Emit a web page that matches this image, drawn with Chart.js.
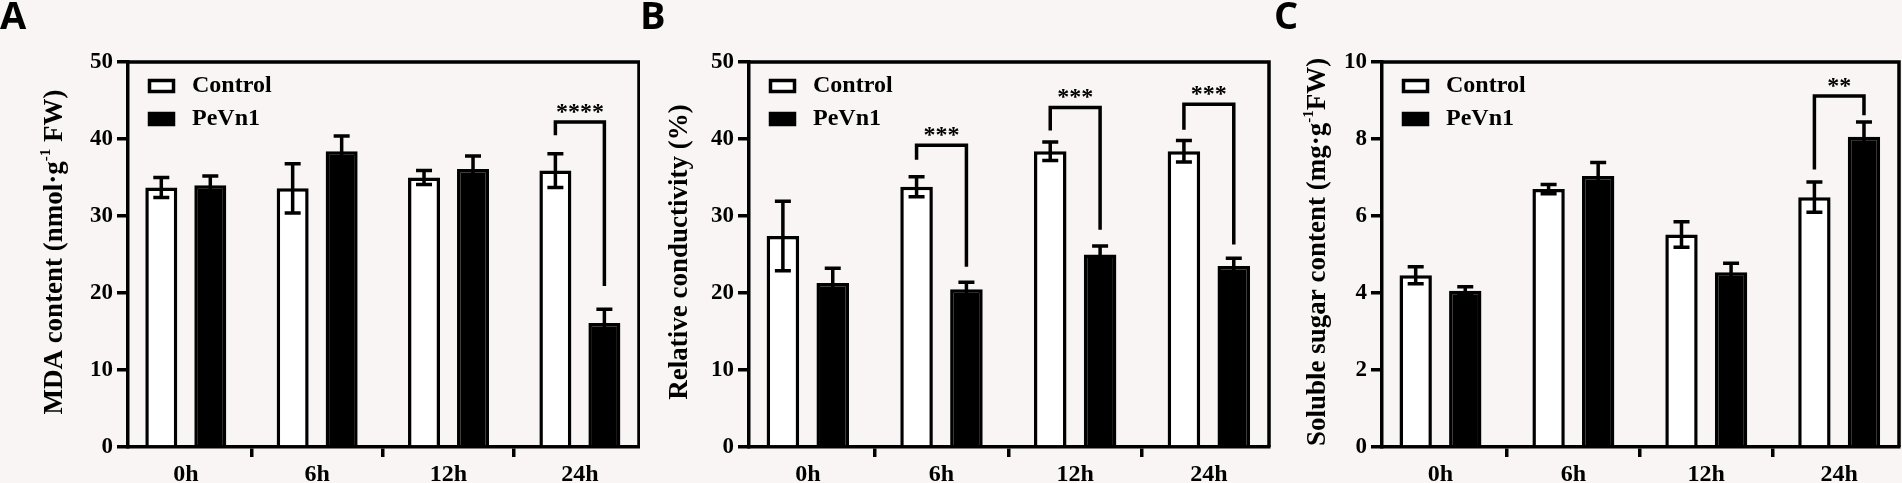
<!DOCTYPE html>
<html>
<head>
<meta charset="utf-8">
<script src="https://cdn.jsdelivr.net/npm/chart.js@4.4.1/dist/chart.umd.min.js"></script>
<style>
  body { margin: 0; width: 1902px; height: 483px; overflow: hidden; background: #f8f5f4; position: relative; }
  .panel { position: absolute; top: 0; height: 483px; }
</style>
</head>
<body>
<div class="panel" style="left:0;width:640px"><canvas id="chartA" width="640" height="483"></canvas></div>
<div class="panel" style="left:640px;width:632px"><canvas id="chartB" width="632" height="483"></canvas></div>
<div class="panel" style="left:1272px;width:630px"><canvas id="chartC" width="630" height="483"></canvas></div>
<script>
const timePoints = ['0h', '6h', '12h', '24h'];
const groupNames = ['Control', 'PeVn1'];

// A - MDA content
const mdaControl = [33.7, 33.6, 35.0, 35.9];
const mdaControlSd = [1.3, 3.2, 0.9, 2.2];
const mdaPevn1 = [34.0, 38.4, 36.1, 16.1];
const mdaPevn1Sd = [1.2, 2.0, 1.7, 1.8];
const mdaTicks = [0, 10, 20, 30, 40, 50];
const mdaSig = [{ at: 3, stars: '****', top: 42.2, leftEnd: 40.5, rightEnd: 20.9 }];

// B - relative conductivity
const condControl = [27.4, 33.8, 38.4, 38.4];
const condControlSd = [4.5, 1.3, 1.2, 1.4];
const condPevn1 = [21.3, 20.5, 25.0, 23.5];
const condPevn1Sd = [1.9, 0.9, 1.1, 1.0];
const condTicks = [0, 10, 20, 30, 40, 50];
const condSig = [
  { at: 1, stars: '***', top: 39.2, leftEnd: 37.3, rightEnd: 23.4 },
  { at: 2, stars: '***', top: 44.1, leftEnd: 41.1, rightEnd: 28.2 },
  { at: 3, stars: '***', top: 44.5, leftEnd: 41.2, rightEnd: 26.3 }
];

// C - soluble sugar
const sugarControl = [4.46, 6.70, 5.52, 6.49];
const sugarControlSd = [0.22, 0.12, 0.33, 0.39];
const sugarPevn1 = [4.06, 7.04, 4.54, 8.06];
const sugarPevn1Sd = [0.10, 0.35, 0.23, 0.38];
const sugarTicks = [0, 2, 4, 6, 8, 10];
const sugarSig = [{ at: 3, stars: '**', top: 9.12, leftEnd: 7.21, rightEnd: 8.62 }];

const SERIF = "'Liberation Serif', 'Times New Roman', serif";
const LW = 3.5;
Chart.defaults.font.family = SERIF;
Chart.defaults.font.weight = 'bold';
Chart.defaults.color = '#000';

// error bars, drawn on top of the bars
const errorBars = {
  id: 'errorBars',
  afterDatasetsDraw(chart) {
    const ctx = chart.ctx;
    const y = chart.scales.y;
    ctx.save();
    ctx.strokeStyle = '#000';
    ctx.lineWidth = LW;
    chart.data.datasets.forEach((ds, di) => {
      chart.getDatasetMeta(di).data.forEach((bar, i) => {
        const v = ds.data[i].y, sd = ds.sd[i];
        const yt = y.getPixelForValue(v + sd), yb = y.getPixelForValue(v - sd);
        ctx.beginPath();
        ctx.moveTo(bar.x, yb); ctx.lineTo(bar.x, yt);
        ctx.moveTo(bar.x - 8, yt); ctx.lineTo(bar.x + 8, yt);
        ctx.moveTo(bar.x - 8, yb); ctx.lineTo(bar.x + 8, yb);
        ctx.stroke();
      });
    });
    ctx.restore();
  }
};

// frame, legend, significance brackets, axis title, panel letter
const decorations = {
  id: 'decorations',
  afterDraw(chart, args, o) {
    const ctx = chart.ctx;
    const a = chart.chartArea;
    const y = chart.scales.y;
    ctx.save();
    ctx.strokeStyle = '#000';
    ctx.fillStyle = '#000';
    ctx.lineWidth = LW;

    ctx.beginPath();
    ctx.moveTo(a.left - 1.5, a.top);
    ctx.lineTo(a.right, a.top);
    ctx.lineTo(a.right, a.bottom);
    ctx.stroke();

    // legend
    chart.data.datasets.forEach((ds, di) => {
      const by = a.top + 17 + di * 33;
      const bx = a.left + 20;
      ctx.fillStyle = ds.backgroundColor;
      ctx.fillRect(bx, by, 27, 14);
      ctx.strokeRect(bx + 1.5, by + 1.5, 24, 11);
      ctx.fillStyle = '#000';
      ctx.font = 'bold 24px ' + SERIF;
      ctx.textBaseline = 'middle';
      ctx.textAlign = 'left';
      ctx.fillText(ds.label, a.left + 64, by + 7);
    });

    // significance brackets
    const m0 = chart.getDatasetMeta(0), m1 = chart.getDatasetMeta(1);
    o.sig.forEach(s => {
      const xl = m0.data[s.at].x, xr = m1.data[s.at].x;
      const yt = y.getPixelForValue(s.top);
      ctx.beginPath();
      ctx.moveTo(xl, y.getPixelForValue(s.leftEnd));
      ctx.lineTo(xl, yt);
      ctx.lineTo(xr, yt);
      ctx.lineTo(xr, y.getPixelForValue(s.rightEnd));
      ctx.stroke();
      ctx.font = 'bold 24px ' + SERIF;
      ctx.textAlign = 'center';
      ctx.textBaseline = 'alphabetic';
      ctx.fillText(s.stars, (xl + xr) / 2, yt - 3);
    });

    // rotated y title with superscript
    ctx.save();
    ctx.translate(o.titleX, 252);
    ctx.rotate(-Math.PI / 2);
    ctx.textAlign = 'left';
    ctx.textBaseline = 'alphabetic';
    const fontOf = sup => sup ? 'bold 15px ' + SERIF : 'bold 27px ' + SERIF;
    let total = 0;
    o.title.forEach(([t, sup]) => { ctx.font = fontOf(sup); total += ctx.measureText(t).width; });
    let x = -total / 2;
    o.title.forEach(([t, sup]) => {
      ctx.font = fontOf(sup);
      ctx.fillText(t, x, sup ? -12 : 0);
      x += ctx.measureText(t).width;
    });
    ctx.restore();

    ctx.font = 'bold 38px "Open Sans", sans-serif';
    ctx.textAlign = 'left';
    ctx.textBaseline = 'alphabetic';
    ctx.fillText(o.letter, o.letterX, 29);
    ctx.restore();
  }
};

function makePanel(id, p) {
  const pts = arr => arr.map((v, i) => ({ x: i, y: v }));
  return new Chart(document.getElementById(id), {
    type: 'bar',
    data: {
      datasets: [
        { label: groupNames[0], data: pts(p.control), sd: p.controlSd,
          backgroundColor: '#ffffff', borderColor: '#000', borderWidth: LW },
        { label: groupNames[1], data: pts(p.pevn1), sd: p.pevn1Sd,
          backgroundColor: '#000000', borderColor: '#000', borderWidth: LW }
      ]
    },
    options: {
      responsive: false,
      animation: false,
      categoryPercentage: 0.746,
      barPercentage: 0.653,
      layout: { padding: { left: 0, right: p.padRight, top: 62, bottom: 0 } },
      plugins: {
        legend: { display: false },
        tooltip: { enabled: false },
        decorations: { sig: p.sig, title: p.title, titleX: p.titleX, letter: p.letter, letterX: p.letterX }
      },
      scales: {
        x: {
          type: 'linear',
          min: -0.44, max: 3.45,
          offset: false,
          afterBuildTicks: s => { s.ticks = timePoints.map((_, i) => ({ value: i })); },
          afterFit: s => { s.height = 36; },
          ticks: { autoSkip: false, padding: 3, font: { size: 24 }, callback: v => timePoints[v] },
          grid: { drawOnChartArea: false, tickLength: 10, lineWidth: LW, color: '#000' },
          border: { display: true, width: LW, color: '#000' }
        },
        y: {
          min: 0, max: p.ticks[p.ticks.length - 1],
          afterBuildTicks: s => { s.ticks = p.ticks.map(v => ({ value: v })); },
          afterFit: s => { s.width = p.axisWidth; },
          ticks: { padding: 4, font: { size: 23 } },
          grid: { drawOnChartArea: false, tickLength: 11, lineWidth: LW, color: '#000' },
          border: { display: true, width: LW, color: '#000' }
        }
      }
    },
    plugins: [errorBars, decorations]
  });
}

makePanel('chartA', {
  control: mdaControl, controlSd: mdaControlSd, pevn1: mdaPevn1, pevn1Sd: mdaPevn1Sd,
  ticks: mdaTicks, sig: mdaSig, axisWidth: 128, padRight: 1, titleX: 62,
  title: [['MDA content (nmol·g', false], ['-1', true], [' FW)', false]],
  letter: 'A', letterX: 0
});
makePanel('chartB', {
  control: condControl, controlSd: condControlSd, pevn1: condPevn1, pevn1Sd: condPevn1Sd,
  ticks: condTicks, sig: condSig, axisWidth: 109, padRight: 3, titleX: 47,
  title: [['Relative conductivity (%)', false]],
  letter: 'B', letterX: 0
});
makePanel('chartC', {
  control: sugarControl, controlSd: sugarControlSd, pevn1: sugarPevn1, pevn1Sd: sugarPevn1Sd,
  ticks: sugarTicks, sig: sugarSig, axisWidth: 110, padRight: 3, titleX: 53,
  title: [['Soluble sugar content (mg·g', false], ['-1', true], ['FW)', false]],
  letter: 'C', letterX: 2
});
</script>
</body>
</html>
